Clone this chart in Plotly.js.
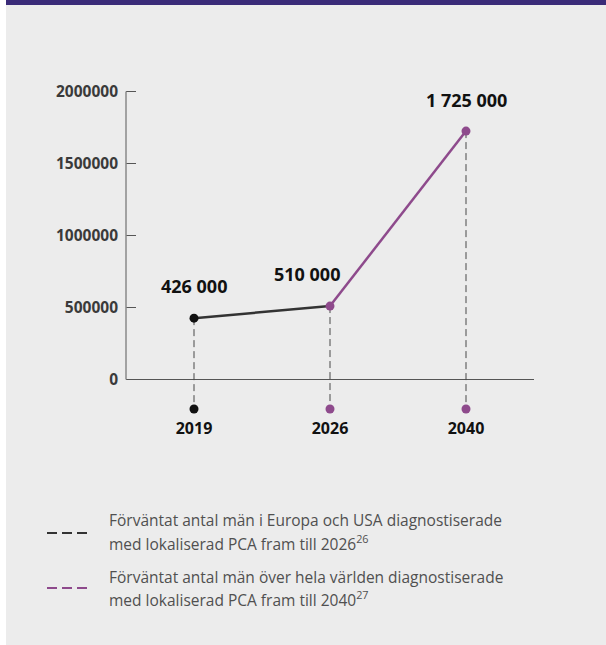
<!DOCTYPE html>
<html>
<head>
<meta charset="utf-8">
<script src="https://cdn.plot.ly/plotly-3.0.1.min.js"></script>
<style>
  html, body { margin: 0; padding: 0; background: #ffffff; }
  #panel { position: absolute; left: 6px; top: 0; width: 600px; height: 645px; background: #ECECEC; }
  #bar { position: absolute; left: 6px; top: 0; width: 600px; height: 5px; background: #3A2B78; }
  #chart { position: absolute; left: 0; top: 0; width: 606px; height: 645px; }
</style>
</head>
<body>
<div id="panel"></div>
<div id="bar"></div>
<div id="chart"></div>
<script>
// ---- data ----
const categories = ['2019', '2026', '2040'];
const values = [426000, 510000, 1725000];
const valueLabels = ['426 000', '510 000', '1 725 000'];
const europeCats = ['2019', '2026'];
const europeValues = [426000, 510000];
const worldCats = ['2026', '2040'];
const worldValues = [510000, 1725000];
const yTickVals = [0, 500000, 1000000, 1500000, 2000000];
const yTickText = ['0', '500000', '1000000', '1500000', '2000000'];
const pointColors = ['#111111', '#8E4A8C', '#8E4A8C'];
const legendLines = [
  ['Förväntat antal män i Europa och USA diagnostiserade', 'med lokaliserad PCA fram till 2026<sup>26</sup>'],
  ['Förväntat antal män över hela världen diagnostiserade', 'med lokaliserad PCA fram till 2040<sup>27</sup>']
];
const legendColors = ['#333333', '#8E4A8C'];

// ---- layout geometry (pixels) ----
const W = 606, H = 645;
const M = { l: 126, r: 72, t: 80, b: 229 };
const plotW = W - M.l - M.r, plotH = H - M.t - M.b;
const px2x = p => (p - M.l) / plotW;
const px2y = p => (H - M.b - p) / plotH;
const yRange = [-253500, 2079900];
const baseLevel = -205000; // level of the row of markers under the axis

const PURPLE = '#8E4A8C';
const DARK = '#333333';
const FONT = 'Open Sans, Noto Sans, sans-serif';

const traces = [];
categories.forEach((c, i) => {
  traces.push({
    x: [c, c], y: [values[i], baseLevel], mode: 'lines', type: 'scatter',
    line: { color: '#484848', width: 1, dash: '7px,4px' }, hoverinfo: 'skip', showlegend: false
  });
});
traces.push({
  x: europeCats, y: europeValues, mode: 'lines', type: 'scatter',
  line: { color: DARK, width: 2.5 }, showlegend: false
});
traces.push({
  x: worldCats, y: worldValues, mode: 'lines', type: 'scatter',
  line: { color: PURPLE, width: 2.5 }, showlegend: false
});
traces.push({
  x: categories, y: values, mode: 'markers', type: 'scatter',
  marker: { color: pointColors, size: 9 }, showlegend: false
});
traces.push({
  x: categories, y: categories.map(() => baseLevel), mode: 'markers', type: 'scatter',
  marker: { color: pointColors, size: 9 }, showlegend: false, cliponaxis: false
});

const annotations = categories.map((c, i) => ({
  x: i, y: values[i], xref: 'x', yref: 'y', text: valueLabels[i], showarrow: false,
  xshift: [0, -23, 0][i], yshift: [32, 32, 31][i],
  font: { family: FONT, size: 18, color: '#111111', weight: 'bold' }
}));
const legendLineY = [[520, 543], [577, 599]];
legendLines.forEach((lines, i) => {
  lines.forEach((t, j) => {
    annotations.push({
      x: px2x(107), y: px2y(legendLineY[i][j]), xref: 'paper', yref: 'paper', text: t, showarrow: false,
      xanchor: 'left', yanchor: 'middle', align: 'left',
      font: { family: FONT, size: 15.5, color: '#505050' }
    });
  });
});

const shapes = [
  { type: 'line', xref: 'paper', yref: 'y', x0: 0, x1: 0, y0: 0, y1: 2000000,
    line: { color: '#8a8a8a', width: 1.5 } }
];
[533, 588].forEach((ly, i) => {
  shapes.push({ type: 'line', xref: 'paper', yref: 'paper', x0: px2x(47), x1: px2x(87),
    y0: px2y(ly), y1: px2y(ly), line: { color: legendColors[i], width: 2, dash: '10px,5px' } });
});

const layout = {
  width: W, height: H,
  margin: M,
  paper_bgcolor: 'rgba(0,0,0,0)', plot_bgcolor: 'rgba(0,0,0,0)',
  showlegend: false,
  xaxis: {
    type: 'category', range: [-0.5, 2.5], showgrid: false, zeroline: false, showline: false,
    ticks: '', ticklabelstandoff: 1,
    tickfont: { family: FONT, size: 16, color: '#111111', weight: 'bold' },
    fixedrange: true
  },
  yaxis: {
    range: yRange, showgrid: false, zeroline: true, zerolinecolor: '#555555', zerolinewidth: 1.2,
    showline: false, ticks: 'inside', ticklen: 10, tickcolor: '#555555', tickwidth: 1,
    tickvals: yTickVals, ticktext: yTickText, ticklabelstandoff: 7,
    tickfont: { family: FONT, size: 15.5, color: '#3a3a3a', weight: 'bold' },
    fixedrange: true
  },
  annotations: annotations,
  shapes: shapes
};

Plotly.newPlot('chart', traces, layout, { staticPlot: true, displayModeBar: false });
</script>
</body>
</html>
